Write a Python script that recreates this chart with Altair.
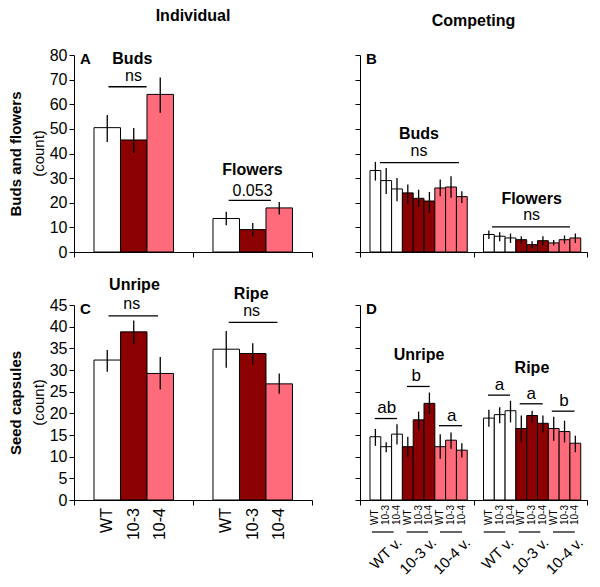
import altair as alt
import pandas as pd

FONT = "Liberation Sans"

genos = ["WT", "10-3", "10-4"]
geno_colors = ["#FFFFFF", "#8B0000", "#FF6B7A"]
focal_labels = ["WT v.", "10-3 v.", "10-4 v."]

# ---------- Panel A: individual, buds & flowers ----------
a_groups = ["Buds", "Flowers"]
a_mean = [[50.5, 45.5, 64.0], [13.6, 9.1, 17.9]]
a_lo = [[44.7, 40.2, 56.5], [10.9, 6.4, 15.2]]
a_hi = [[55.6, 50.4, 70.9], [16.3, 11.8, 20.3]]
a_sig = ["ns", "0.053"]

# ---------- Panel B: competing, buds & flowers ----------
b_groups = ["Buds", "Flowers"]
b_mean = [[33.1, 29.0, 25.6, 24.0, 21.8, 20.7, 26.0, 26.4, 22.5],
          [7.1, 6.4, 5.7, 5.0, 3.0, 4.6, 3.7, 5.0, 5.7]]
b_lo = [[29.0, 23.6, 20.6, 19.5, 18.2, 15.9, 22.6, 22.0, 19.9],
        [5.3, 4.4, 3.7, 3.3, 1.6, 2.7, 2.6, 3.4, 3.7]]
b_hi = [[36.6, 34.1, 30.1, 27.4, 25.3, 24.4, 29.4, 30.8, 24.7],
        [8.7, 8.0, 7.5, 6.4, 4.4, 6.4, 4.9, 6.7, 7.5]]
b_sig = ["ns", "ns"]

# ---------- Panel C: individual, seed capsules ----------
c_groups = ["Unripe", "Ripe"]
c_mean = [[32.3, 38.8, 29.2], [34.8, 33.8, 26.8]]
c_lo = [[29.6, 36.0, 25.5], [30.5, 31.2, 24.5]]
c_hi = [[34.6, 41.4, 33.0], [39.0, 36.2, 29.2]]
c_sig = ["ns", "ns"]

# ---------- Panel D: competing, seed capsules ----------
d_groups = ["Unripe", "Ripe"]
d_mean = [[14.6, 12.3, 15.2, 12.3, 18.5, 22.3, 12.3, 13.8, 11.5],
          [18.9, 19.7, 20.6, 16.5, 19.5, 17.7, 16.5, 15.8, 13.1]]
d_lo = [[12.5, 11.0, 12.8, 10.0, 16.2, 19.8, 9.5, 11.8, 9.8],
        [16.9, 17.7, 17.9, 13.3, 17.9, 15.6, 13.7, 13.3, 11.0]]
d_hi = [[16.4, 13.3, 17.5, 14.6, 20.4, 24.8, 15.2, 15.6, 13.1],
        [20.8, 21.4, 22.9, 19.5, 20.6, 19.5, 19.2, 18.3, 14.8]]
d_letters = [["ab", "b", "a"], ["a", "a", "b"]]

# ---------- annotation placement (x in group units, y in data units) ----------
a_lab_x = [0.49, 1.50]; a_lab_y = [76.4, 31.3]
a_sig_x = [0.50, 1.50]; a_sig_y = [69.6, 22.9]
a_line_x0 = [0.29, 1.30]; a_line_x1 = [0.61, 1.655]; a_line_y = [67.1, 21.0]

b_lab_x = [0.52, 1.512]; b_lab_y = [45.8, 19.4]
b_sig_x = [0.52, 1.512]; b_sig_y = [38.9, 12.8]
b_line_x0 = [0.176, 1.163]; b_line_x1 = [0.872, 1.85]; b_line_y = [36.3, 10.2]

c_lab_x = [0.508, 1.489]; c_lab_y = [48.5, 46.5]
c_sig_x = [0.485, 1.493]; c_sig_y = [44.1, 42.4]
c_line_x0 = [0.29, 1.30]; c_line_x1 = [0.706, 1.71]; c_line_y = [42.5, 41.0]

d_lab_x = [0.52, 1.515]; d_lab_y = [32.3, 29.4]
d_let_x = [[0.235, 0.495, 0.808], [1.229, 1.508, 1.797]]
d_let_y = [[20.1, 27.4, 18.3], [25.4, 23.3, 21.8]]
d_line_x0 = [[0.13, 0.414, 0.696], [1.128, 1.407, 1.69]]
d_line_x1 = [[0.326, 0.614, 0.899], [1.322, 1.61, 1.89]]
d_line_y = [[18.8, 26.2, 17.15], [24.2, 22.2, 20.5]]
d_under_x0 = [[0.105, 0.41, 0.705], [1.09, 1.398, 1.70]]
d_under_x1 = [[0.296, 0.60, 0.899], [1.28, 1.589, 1.892]]


def bar_df(groups, focal, comp, mean, lo, hi, start, step):
    """Bar slots: group g occupies [g, g+1]; bar k sits at slot k inside it."""
    rows = []
    for gi, g in enumerate(groups):
        for k in range(len(focal)):
            x0 = gi + start + k * step
            rows.append(dict(group=g, focal=focal[k], comp=comp[k],
                             x0=x0, x1=x0 + step, xc=x0 + step / 2,
                             mean=mean[gi][k], lo=lo[gi][k], hi=hi[gi][k]))
    return pd.DataFrame(rows)


pair_focal = [f for f in genos for c in genos]
pair_comp = [c for f in genos for c in genos]

dfA = bar_df(a_groups, genos, genos, a_mean, a_lo, a_hi, 0.168, 0.2227)
dfB = bar_df(b_groups, pair_focal, pair_comp, b_mean, b_lo, b_hi, 0.088, 0.0952)
dfC = bar_df(c_groups, genos, genos, c_mean, c_lo, c_hi, 0.168, 0.2227)
dfD = bar_df(d_groups, pair_focal, pair_comp, d_mean, d_lo, d_hi, 0.088, 0.0952)


def panel(df, width, height, ymax, ystep, ytitle, letter, texts_bold, texts_norm,
          lines, title=None, bar_labels=None, under=None, norm_size=16):
    yscale = alt.Scale(domain=[0, ymax], nice=False, zero=True)
    xscale = alt.Scale(domain=[0, 2], nice=False, zero=False)
    xaxis = alt.Axis(values=[0, 1, 2], labels=False, title=None, tickSize=5, grid=False)
    if ytitle:
        yaxis = alt.Axis(values=list(range(0, ymax + 1, ystep)), title=ytitle,
                         titleFontSize=15, titleFontWeight="bold", titleFont=FONT,
                         titleX=-59, titleY=height / 2, titleAngle=270,
                         titleAlign="center", titleBaseline="middle", grid=False)
    else:
        yaxis = alt.Axis(values=list(range(0, ymax + 1, ystep)), labels=False,
                         title=None, grid=False)

    def X(f):
        return alt.X(f, scale=xscale, axis=xaxis)

    def Y(f):
        return alt.Y(f, scale=yscale, axis=yaxis)

    base = alt.Chart(df)
    layers = []
    layers.append(base.mark_rect(stroke="black", strokeWidth=1).encode(
        x=X("x0:Q"), x2="x1:Q",
        y=Y("mean:Q"), y2=alt.datum(0),
        fill=alt.Fill("focal:N", scale=alt.Scale(domain=genos, range=geno_colors),
                      legend=None),
    ))
    layers.append(base.mark_rule(strokeWidth=1.3, color="black").encode(
        x=X("xc:Q"), y=Y("lo:Q"), y2="hi:Q",
    ))
    if bar_labels is not None:
        size, dyv, align, field = bar_labels
        layers.append(base.mark_text(angle=270, align=align, baseline="middle",
                                     fontSize=size, font=FONT, color="black").encode(
            x=X("xc:Q"), y=alt.value(height + dyv), text=f"{field}:N"))

    tb = pd.DataFrame(texts_bold)
    tn = pd.DataFrame(texts_norm)
    ln = pd.DataFrame(lines)
    layers += [
        alt.Chart(ln).mark_rule(strokeWidth=1.3, color="black").encode(
            x=X("x0:Q"), x2="x1:Q", y=Y("y:Q")),
        alt.Chart(tb).mark_text(font=FONT, fontSize=16, fontWeight="bold",
                                baseline="alphabetic", color="black").encode(
            x=X("x:Q"), y=Y("y:Q"), text="t:N"),
        alt.Chart(tn).mark_text(font=FONT, fontSize=norm_size, baseline="alphabetic",
                                color="black").encode(
            x=X("x:Q"), y=Y("y:Q"), text="t:N"),
        alt.Chart(pd.DataFrame({"t": [letter]})).mark_text(
            font=FONT, fontSize=15, fontWeight="bold", align="left", baseline="middle",
            color="black").encode(x=alt.value(6), y=alt.value(4), text="t:N"),
    ]
    if ytitle:
        layers.append(alt.Chart(pd.DataFrame({"t": ["(count)"]})).mark_text(
            font=FONT, fontSize=15, angle=270, align="center", baseline="middle",
            color="black").encode(x=alt.value(-35), y=alt.value(height / 2), text="t:N"))
    if under is not None:
        ud = pd.DataFrame(under)
        layers.append(alt.Chart(ud).mark_rule(strokeWidth=1.2, color="black").encode(
            x=X("x0:Q"), x2="x1:Q", y=alt.value(height + 32)))
        layers.append(alt.Chart(ud).mark_text(font=FONT, fontSize=15, angle=315,
                                              align="right", baseline="middle",
                                              color="black").encode(
            x=X("xl:Q"), y=alt.value(height + 40), text="t:N"))
    ch = alt.layer(*layers).properties(width=width, height=height)
    if title:
        ch = ch.properties(title=alt.TitleParams(title, fontSize=16, fontWeight="bold",
                                                 font=FONT, anchor="middle", frame="group",
                                                 offset=23, color="black"))
    return ch


def tri(xs, ys, ts):
    return {"x": xs, "y": ys, "t": ts}


flat = lambda m: [v for row in m for v in row]

pA = panel(dfA, 238, 197, 80, 10, "Buds and flowers", "A",
           tri(a_lab_x, a_lab_y, a_groups), tri(a_sig_x, a_sig_y, a_sig),
           {"x0": a_line_x0, "x1": a_line_x1, "y": a_line_y}, title="Individual")
pB = panel(dfB, 227, 197, 80, 10, None, "B",
           tri(b_lab_x, b_lab_y, b_groups), tri(b_sig_x, b_sig_y, b_sig),
           {"x0": b_line_x0, "x1": b_line_x1, "y": b_line_y}, title="Competing")
pC = panel(dfC, 238, 195, 45, 5, "Seed capsules", "C",
           tri(c_lab_x, c_lab_y, c_groups), tri(c_sig_x, c_sig_y, c_sig),
           {"x0": c_line_x0, "x1": c_line_x1, "y": c_line_y},
           bar_labels=(16, 8, "right", "comp"))
under = {"x0": flat(d_under_x0), "x1": flat(d_under_x1),
         "xl": [v + 0.05 for v in flat(d_under_x1)],
         "t": focal_labels * 2}
pD = panel(dfD, 227, 195, 45, 5, None, "D",
           tri(d_lab_x, d_lab_y, d_groups),
           tri(flat(d_let_x), flat(d_let_y), flat(d_letters)),
           {"x0": flat(d_line_x0), "x1": flat(d_line_x1), "y": flat(d_line_y)},
           bar_labels=(10, 25, "left", "comp"), under=under, norm_size=17)

chart = alt.concat(pA, pB, pC, pD, columns=2,
                   spacing=alt.RowColnumber(row=53, column=48),
                   bounds="flush", align="each").properties(
    padding={"left": 0, "top": 0, "right": 0, "bottom": 0}
).configure(font=FONT).configure_view(stroke=None).configure_axis(
    domainColor="black", tickColor="black", labelColor="black", labelFont=FONT,
    labelFontSize=16, tickSize=5, domainWidth=1, tickWidth=1, labelPadding=2, grid=False
)

chart.save("out.html", embed_options={"renderer": "svg", "actions": False})
